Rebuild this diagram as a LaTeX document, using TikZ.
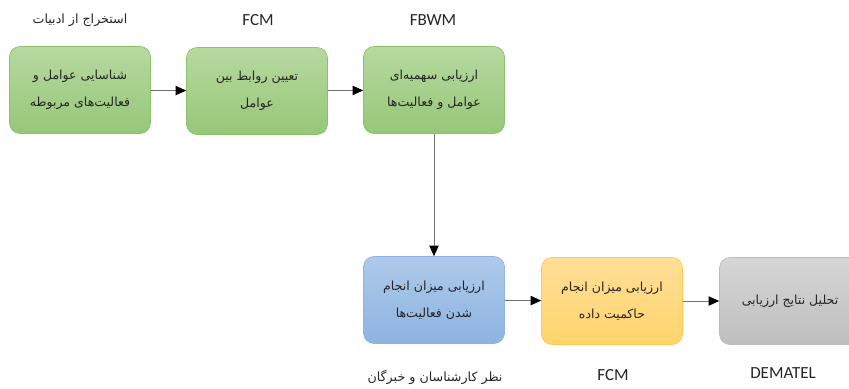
\documentclass[tikz,border=0pt]{standalone}
\usepackage{fontspec}
\setmainfont{Carlito}
\newfontfamily\arabicfont[Script=Arabic]{DejaVu Sans}
\TeXXeTstate=1
\usetikzlibrary{arrows.meta,positioning}

\definecolor{greenTop}{HTML}{B6D9A0}
\definecolor{greenBot}{HTML}{96C778}
\definecolor{greenLine}{HTML}{8CC06C}
\definecolor{blueTop}{HTML}{AECAEA}
\definecolor{blueBot}{HTML}{8DB3E0}
\definecolor{blueLine}{HTML}{8EB4E3}
\definecolor{orangeTop}{HTML}{FFDE96}
\definecolor{orangeBot}{HTML}{FFD46E}
\definecolor{orangeLine}{HTML}{FFC94C}
\definecolor{grayTop}{HTML}{D6D6D6}
\definecolor{grayBot}{HTML}{BEBEBE}
\definecolor{grayLine}{HTML}{BCBCBC}

\tikzset{
	stage/.style={draw,rounded corners=9pt,minimum width=141*0.03cm,minimum height=87*0.03cm,
		align=center,line width=0.6pt,text=black!85,font=\arabicfont\fontsize{10.7}{23}\selectfont},
	greenstage/.style={stage,top color=greenTop,bottom color=greenBot,draw=greenLine},
	bluestage/.style={stage,top color=blueTop,bottom color=blueBot,draw=blueLine},
	orangestage/.style={stage,top color=orangeTop,bottom color=orangeBot,draw=orangeLine},
	graystage/.style={stage,top color=grayTop,bottom color=grayBot,draw=grayLine},
	method/.style={text=black!85,font=\fontsize{14.5}{16}\selectfont},
	persianmethod/.style={text=black!85,font=\arabicfont\fontsize{10.8}{13}\selectfont},
	flow/.style={-{Triangle[length=9pt,width=8pt,fill=black,color=black]},draw=black!55,line width=0.7pt}
}

\begin{document}
\begin{tikzpicture}[x=0.03cm,y=-0.03cm]
	\useasboundingbox (0,0) rectangle (849,388);
	% upper row
	\node[greenstage] (identify) at (80,90) {\beginR شناسایی عوامل و\endR\\\beginR فعالیت‌های مربوطه\endR};
	\node[greenstage] (relate) at (257,91) {\beginR تعیین روابط بین\endR\\\beginR عوامل\endR};
	\node[greenstage] (weigh) at (434,90) {\beginR ارزیابی سهمیه‌ای\endR\\\beginR عوامل و فعالیت‌ها\endR};
	% lower row
	\node[bluestage] (done) at (434,300) {\beginR ارزیابی میزان انجام\endR\\\beginR شدن فعالیت‌ها\endR};
	\node[orangestage] (govern) at (612,301) {\beginR ارزیابی میزان انجام\endR\\\beginR حاکمیت داده\endR};
	\node[graystage] (analyse) at (790,301) {\beginR تحلیل نتایج ارزیابی\endR};

	% methods
	\node[persianmethod] (lit) at (80,20) {\beginR استخراج از ادبیات\endR};
	\node[method] (fcmA) at (258,20) {FCM};
	\node[method] (fbwm) at (433,20) {FBWM};
	\node[persianmethod] (expert) at (435,377) {\beginR نظر کارشناسان و خبرگان\endR};
	\node[method] (fcmB) at (613,375) {FCM};
	\node[method] (dematel) at (783,373) {DEMATEL};

	\path
	\foreach \startNode/\endNode in {identify/relate,relate/weigh,done/govern,govern/analyse}
	{
		(\startNode) edge[flow] (\endNode)
	};
	\draw[flow] (weigh) to (done);
\end{tikzpicture}
\end{document}
